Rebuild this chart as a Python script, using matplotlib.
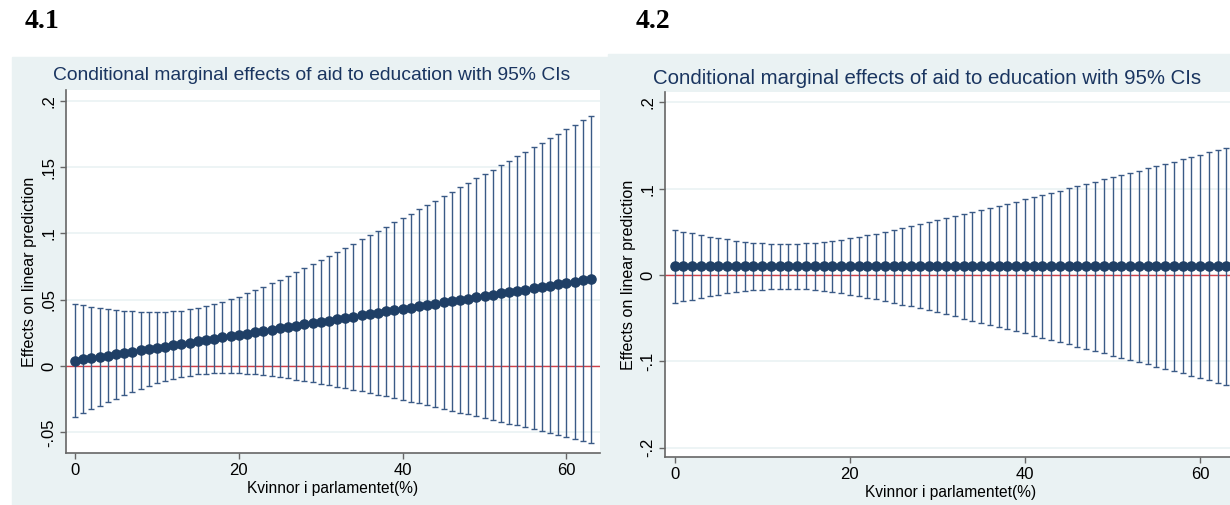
import matplotlib
matplotlib.use("Agg")
import matplotlib.pyplot as plt
from matplotlib.patches import Rectangle

# data: share of women in parliament (%) and marginal effects with 95% CI half-widths
kvinnor = list(range(64))

effekt_41 = [.0040, .0050, .0060, .0069, .0079, .0089, .0099, .0108, .0118, .0128,
             .0138, .0147, .0157, .0167, .0177, .0186, .0196, .0206, .0216, .0225,
             .0235, .0245, .0255, .0264, .0274, .0284, .0294, .0303, .0313, .0323,
             .0333, .0342, .0352, .0362, .0372, .0381, .0391, .0401, .0411, .0420,
             .0430, .0440, .0450, .0459, .0469, .0479, .0489, .0498, .0508, .0518,
             .0528, .0537, .0547, .0557, .0567, .0576, .0586, .0596, .0606, .0615,
             .0625, .0635, .0645, .0654]
ci_41 = [.0427, .0407, .0388, .0370, .0352, .0335, .0319, .0304, .0291, .0279,
         .0269, .0261, .0255, .0251, .0249, .0250, .0254, .0260, .0268, .0277,
         .0289, .0302, .0317, .0333, .0349, .0367, .0385, .0405, .0424, .0444,
         .0465, .0486, .0507, .0529, .0551, .0573, .0595, .0618, .0640, .0663,
         .0686, .0709, .0732, .0755, .0778, .0802, .0825, .0849, .0872, .0896,
         .0920, .0943, .0967, .0991, .1015, .1039, .1063, .1087, .1111, .1135,
         .1159, .1183, .1207, .1231]

effekt_42 = [.010, .010, .010, .010, .010, .010, .010, .010, .010, .010,
             .010, .010, .010, .010, .010, .010, .010, .010, .010, .010,
             .010, .010, .010, .010, .010, .010, .010, .010, .010, .010,
             .010, .010, .010, .010, .010, .010, .010, .010, .010, .010,
             .010, .010, .010, .010, .010, .010, .010, .010, .010, .010,
             .010, .010, .010, .010, .010, .010, .010, .010, .010, .010,
             .010, .010, .010, .010]
ci_42 = [.0425, .0404, .0384, .0365, .0346, .0329, .0314, .0299, .0287, .0276,
         .0268, .0263, .0260, .0259, .0262, .0267, .0275, .0285, .0297, .0311,
         .0326, .0343, .0361, .0380, .0400, .0421, .0442, .0464, .0486, .0509,
         .0533, .0556, .0580, .0604, .0628, .0653, .0677, .0702, .0727, .0752,
         .0777, .0802, .0828, .0853, .0879, .0904, .0930, .0955, .0981, .1007,
         .1033, .1059, .1085, .1111, .1137, .1163, .1189, .1215, .1241, .1267,
         .1293, .1320, .1346, .1372]

yticks_41 = [-.05, 0, .05, .1, .15, .2]
ylabels_41 = ["-.05", "0", ".05", ".1", ".15", ".2"]
yticks_42 = [-.2, -.1, 0, .1, .2]
ylabels_42 = ["-.2", "-.1", "0", ".1", ".2"]
xticks = [0, 20, 40, 60]

bg = "#eaf2f3"
navy = "#1f3f66"
bar_col = "#3a5a86"
title = "Conditional marginal effects of aid to education with 95% CIs"

plt.rcParams["font.family"] = ["Liberation Sans", "DejaVu Sans"]

W, H = 1230, 505
fig = plt.figure(figsize=(W / 100, H / 100), dpi=100)
fig.patch.set_facecolor("white")

# grey graph regions
fig.patches.append(Rectangle((12 / W, 0), (608 - 12) / W, (505 - 57) / H,
                             transform=fig.transFigure, color=bg, zorder=-5))
fig.patches.append(Rectangle((608 / W, 0), (1230 - 608) / W, (505 - 54) / H,
                             transform=fig.transFigure, color=bg, zorder=-5))


def panel(rect, eff, ci, yt, yl, ylim, tsize, tpos):
    ax = fig.add_axes(rect)
    ax.set_facecolor("white")
    ax.set_xlim(-1.1, 64.1)
    ax.set_ylim(*ylim)
    for y in yt:
        ax.axhline(y, color=bg, lw=1.2, zorder=1)
    ax.axhline(0, color="#d0404a", lw=1.0, zorder=2)
    ax.errorbar(kvinnor, eff, yerr=ci, fmt="none", ecolor=bar_col,
                elinewidth=1.0, capsize=2.3, capthick=1.0, zorder=3)
    ax.plot(kvinnor, eff, "-o", color=navy, ms=6.6, lw=1.5, zorder=4)
    ax.set_yticks(yt)
    ax.set_yticklabels(yl, rotation=90, va="center", fontsize=12)
    ax.set_xticks(xticks)
    ax.set_xticklabels([str(t) for t in xticks], fontsize=12)
    ax.tick_params(length=4, color="#666666", width=1, pad=3)
    for s in ["top", "right"]:
        ax.spines[s].set_visible(False)
    for s in ["left", "bottom"]:
        ax.spines[s].set_color("#666666")
        ax.spines[s].set_linewidth(1.2)
    ax.set_ylabel("Effects on linear prediction", fontsize=11.6, labelpad=3)
    ax.set_xlabel("Kvinnor i parlamentet(%)", fontsize=11.2, labelpad=2)
    fig.text(tpos[0] / W, 1 - tpos[1] / H, title, color="#1a3560",
             fontsize=tsize, ha="center", va="center")
    return ax


panel([66 / W, (505 - 453) / H, 534 / W, 363 / H], effekt_41, ci_41,
      yticks_41, ylabels_41, (-0.0656, 0.2081), 13.9, (312, 76))
panel([665 / W, (505 - 457) / H, 571 / W, 365 / H], effekt_42, ci_42,
      yticks_42, ylabels_42, (-0.2109, 0.2121), 14.7, (927, 78))

fig.text(25 / W, 1 - 22 / H, "4.1", family="Liberation Serif", weight="bold",
         fontsize=20, va="center")
fig.text(636 / W, 1 - 22 / H, "4.2", family="Liberation Serif", weight="bold",
         fontsize=20, va="center")

fig.savefig("out.png", dpi=100)
